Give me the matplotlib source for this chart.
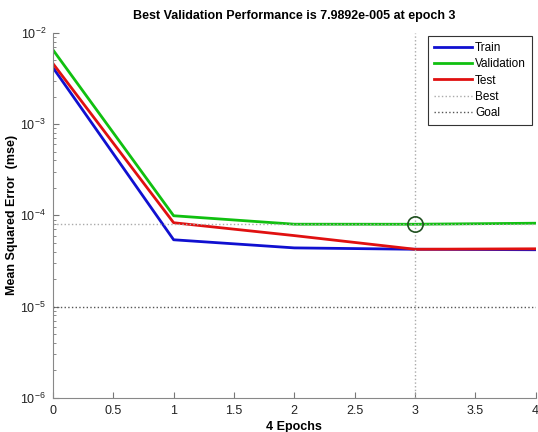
import matplotlib.pyplot as plt
import numpy as np

plt.rcParams['font.family'] = ['Liberation Sans', 'DejaVu Sans']

epochs = [0, 1, 2, 3, 4]
train = [4.15e-3, 5.4e-5, 4.4e-5, 4.25e-5, 4.2e-5]
validation = [6.5e-3, 9.9e-5, 8.0e-5, 7.9892e-5, 8.2e-5]
test = [4.6e-3, 8.3e-5, 6.0e-5, 4.25e-5, 4.3e-5]
best_epoch = 3
best_perf = 7.9892e-5
goal = 1e-5

fig = plt.figure(figsize=(5.38, 4.32), dpi=100)
ax = fig.add_axes([0.0985, 0.079, 0.897, 0.845])

ax.semilogy(epochs, train, color='#1010d0', lw=2, label='Train')
ax.semilogy(epochs, validation, color='#10c010', lw=2, label='Validation')
ax.semilogy(epochs, test, color='#e01010', lw=2, label='Test')
ax.axhline(best_perf, color='#aaaaaa', ls=':', lw=1, label='Best')
ax.axvline(best_epoch, color='#aaaaaa', ls=':', lw=1)
ax.axhline(goal, color='#555555', ls=':', lw=1, label='Goal')
ax.plot(best_epoch, best_perf, 'o', ms=11, mfc='none', mec='#205020', mew=1.2)

ax.set_xlim(0, 4)
ax.set_ylim(1e-6, 1e-2)
ax.set_xticks(np.arange(0, 4.01, 0.5))
ax.set_xticklabels(['0', '0.5', '1', '1.5', '2', '2.5', '3', '3.5', '4'])
ax.tick_params(which='both', direction='in', labelsize=9, colors='#777777',
               labelcolor='#222222')
ax.tick_params(which='major', length=4, pad=5)
ax.tick_params(which='minor', length=2)
for s in ['top', 'right']:
    ax.spines[s].set_visible(False)
for s in ['left', 'bottom']:
    ax.spines[s].set_color('#888888')

ax.set_title('Best Validation Performance is 7.9892e-005 at epoch 3',
             fontsize=9, fontweight='bold', pad=10)
ax.set_xlabel('4 Epochs', fontsize=9, fontweight='bold')
ax.set_ylabel('Mean Squared Error  (mse)', fontsize=9, fontweight='bold')
ax.xaxis.set_label_coords(0.5, -0.062)
ax.yaxis.set_label_coords(-0.072, 0.5)

leg = ax.legend(loc='upper right', fontsize=8.5, fancybox=False, framealpha=1,
                edgecolor='#333333', handlelength=3.2, borderaxespad=0.3,
                labelspacing=0.35, handletextpad=0.3, borderpad=0.5)
leg.get_frame().set_linewidth(0.8)

fig.savefig('out.png', dpi=100)
